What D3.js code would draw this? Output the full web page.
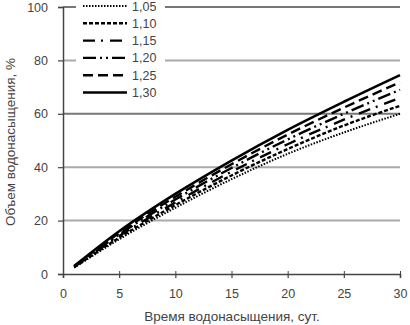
<!DOCTYPE html>
<html>
<head>
<meta charset="utf-8">
<script src="https://cdn.jsdelivr.net/npm/d3@7"></script>
<style>
body { margin: 0; background: #fff; }
text { font-family: "Liberation Sans", Arial, sans-serif; fill: #444; }
</style>
</head>
<body>
<div id="chart"></div>
<script>
// data
var days = [1, 5, 10, 15, 20, 25, 30];
var seriesNames = ["1,05", "1,10", "1,15", "1,20", "1,25", "1,30"];
var v105 = [2.4, 13.0, 24.8, 35.5, 45.0, 53.0, 60.0];
var v110 = [2.5, 13.6, 25.8, 36.9, 46.8, 55.6, 63.0];
var v115 = [2.7, 14.2, 26.8, 38.3, 48.6, 57.8, 66.0];
var v120 = [2.8, 14.8, 27.9, 39.7, 50.4, 60.0, 69.0];
var v125 = [2.9, 15.4, 28.9, 41.1, 52.2, 62.3, 71.8];
var v130 = [3.0, 16.0, 30.0, 42.5, 54.0, 64.5, 74.5];
var xTicks = [0, 5, 10, 15, 20, 25, 30];
var yTicks = [0, 20, 40, 60, 80, 100];

var allValues = [v105, v110, v115, v120, v125, v130];

// line styles per series
var dashes = ["1.5,1.5", "4,2", "12,6,2,7", "13,4,2,4,2,4", "10,5", null];
var widths = [2, 2.4, 2.4, 2.4, 2.4, 2.6];

var svgWidth = 410;
var svgHeight = 325;

var margin = {top: 7, left: 63};
var chartWidth = 400 - margin.left;
var chartHeight = 274 - margin.top;

var svg = d3.select('#chart')
    .append('svg')
    .attr('width', svgWidth)
    .attr('height', svgHeight);

var chartGroup = svg.append('g')
    .attr('transform', `translate(${margin.left},${margin.top})`);

var xScale = d3.scaleLinear()
    .domain([0, 30])
    .range([0, chartWidth]);

var yScale = d3.scaleLinear()
    .domain([0, 100])
    .range([chartHeight, 0]);

// horizontal grid
chartGroup.selectAll('.grid')
    .data(yTicks.filter(d => d > 0))
    .enter()
    .append('line')
    .attr('x1', 0)
    .attr('x2', chartWidth)
    .attr('y1', d => yScale(d))
    .attr('y2', d => yScale(d))
    .attr('stroke', d => (d == 100 || d == 60) ? '#777' : '#aaa')
    .attr('stroke-width', 2);

// axes
var leftAxis = d3.axisLeft(yScale).tickValues(yTicks).tickSize(5).tickPadding(10);
var bottomAxis = d3.axisBottom(xScale).tickValues(xTicks).tickSize(4).tickPadding(11);

var yAxis = chartGroup.append('g').call(leftAxis);
var xAxis = chartGroup.append('g')
    .attr('transform', `translate(0,${chartHeight})`)
    .call(bottomAxis);

[yAxis, xAxis].forEach(a => {
    a.select('.domain').attr('stroke', '#444').attr('stroke-width', 1.5);
    a.selectAll('.tick line').attr('stroke', '#444').attr('stroke-width', 1.2);
    a.selectAll('.tick text')
        .attr('font-size', 12.5)
        .style('font-family', '"Liberation Sans", Arial, sans-serif')
        .attr('fill', '#555');
});

// small inner ticks on x axis
xAxis.selectAll('.tick').append('line')
    .attr('y1', 0).attr('y2', -3)
    .attr('stroke', '#444');

// curves
var line = d3.line()
    .x((d, i) => xScale(days[i]))
    .y(d => yScale(d))
    .curve(d3.curveMonotoneX);

chartGroup.selectAll('.curve')
    .data(allValues)
    .enter()
    .append('path')
    .attr('d', d => line(d))
    .attr('fill', 'none')
    .attr('stroke', '#000')
    .attr('stroke-width', (d, i) => widths[i])
    .attr('stroke-dasharray', (d, i) => dashes[i]);

// legend
var legend = svg.append('g');

legend.append('rect')
    .attr('x', 76)
    .attr('y', 0)
    .attr('width', 89)
    .attr('height', 100)
    .attr('fill', '#fff');

var legendItems = legend.selectAll('.item')
    .data(seriesNames)
    .enter()
    .append('g')
    .attr('transform', (d, i) => `translate(0,${6 + i * 17.3})`);

legendItems.append('line')
    .attr('x1', 83)
    .attr('x2', 127)
    .attr('y1', 0)
    .attr('y2', 0)
    .attr('stroke', '#000')
    .attr('stroke-width', (d, i) => widths[i])
    .attr('stroke-dasharray', (d, i) => dashes[i]);

legendItems.append('text')
    .attr('x', 132)
    .attr('y', 4.5)
    .attr('font-size', 12.5)
    .text(d => d);

// axis titles
svg.append('text')
    .attr('x', 232)
    .attr('y', 321)
    .attr('text-anchor', 'middle')
    .attr('font-size', 13.5)
    .text('Время водонасыщения, сут.');

svg.append('text')
    .attr('transform', 'translate(15,142)rotate(-90)')
    .attr('text-anchor', 'middle')
    .attr('font-size', 13.5)
    .text('Объем водонасыщения, %');
</script>
</body>
</html>
